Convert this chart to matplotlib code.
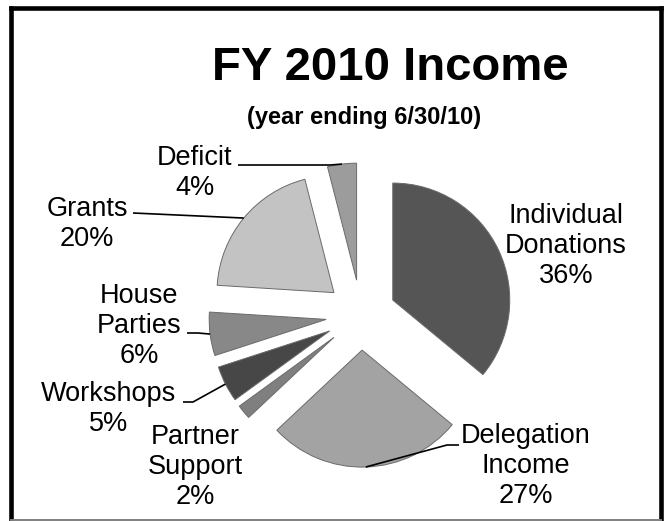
import numpy as np
import matplotlib
matplotlib.use("Agg")
import matplotlib.pyplot as plt
from matplotlib.lines import Line2D

plt.rcParams['font.family'] = ['Liberation Sans', 'DejaVu Sans']

# ---- data ----
labels = ['Individual\nDonations\n36%', 'Delegation\nIncome\n27%', 'Partner\nSupport\n2%',
          'Workshops\n5%', 'House\nParties\n6%', 'Grants\n20%', 'Deficit\n4%']
values = [36, 27, 2, 5, 6, 20, 4]
colors = ['#555555', '#a3a3a3', '#7f7f7f', '#474747', '#888888', '#c3c3c3', '#9c9c9c']

W, H = 666, 521
CX, CY, R = 361, 315, 117   # pie centre / radius in pixels (y down)


def px(x, y):
    """pixel position (y down) -> data units of the pie axes"""
    return (x - CX) / R, (CY - y) / R


fig = plt.figure(figsize=(W / 100, H / 100), dpi=100)
ax = fig.add_axes([0, 0, 1, 1])

wedges, _ = ax.pie(values, colors=colors, startangle=90, counterclock=False,
                   explode=[0.3] * len(values), radius=1.0,
                   wedgeprops=dict(edgecolor='#6a6a6a', linewidth=0.7))
ax.set_xlim(-CX / R, (W - CX) / R)
ax.set_ylim(-(H - CY) / R, CY / R)
ax.set_aspect('equal')
ax.axis('off')

# label centres (pixels) and leader-line elbows
label_pos = [(566, 246), (526, 466), (195, 467), (109, 409), (139, 326), (87, 224), (195, 173)]
leaders = {
    1: [(459, 445), (447, 445)],
    3: [(183, 402), (193, 402)],
    4: [(187, 333), (198, 333)],
    5: [(133, 213)],
    6: [(238, 165), (330, 165)],
}

for i, (w, txt) in enumerate(zip(wedges, labels)):
    x, y = px(*label_pos[i])
    ax.text(x, y, txt, ha='center', va='center', fontsize=19.5, linespacing=1.22)
    if i in leaders:
        mid = np.deg2rad((w.theta1 + w.theta2) / 2)
        ax_ = w.center[0] + w.r * np.cos(mid)
        ay_ = w.center[1] + w.r * np.sin(mid)
        pts = [px(*p) for p in leaders[i]] + [(ax_, ay_)]
        ax.plot([p[0] for p in pts], [p[1] for p in pts], color='black', lw=1.2,
                solid_capstyle='butt')

# titles
fig.text(390 / W, 1 - 80 / H, 'FY 2010 Income', ha='center', va='baseline',
         fontsize=34, fontweight='bold')
fig.text(364 / W, 1 - 124 / H, '(year ending 6/30/10)', ha='center', va='baseline',
         fontsize=17, fontweight='bold')

# frame round the picture
def fline(x0, y0, x1, y1, lw, color):
    fig.add_artist(Line2D([x0 / W, x1 / W], [1 - y0 / H, 1 - y1 / H],
                          transform=fig.transFigure, lw=lw, color=color,
                          solid_capstyle='projecting'))

fline(11, 7.5, 11, 521, 3.3, 'black')
fline(11, 7.5, 660.5, 7.5, 3.3, 'black')
fline(660.5, 7.5, 660.5, 521, 3.3, 'black')
fline(11, 519.5, 660.5, 519.5, 1.4, '#808080')

fig.savefig('out.png', dpi=100)
